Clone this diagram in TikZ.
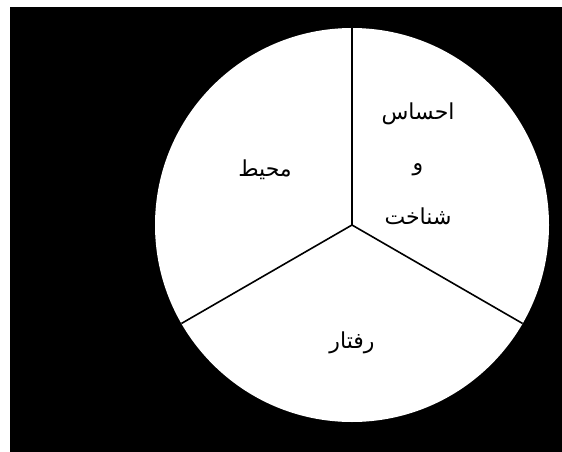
\documentclass[tikz,border=0pt]{standalone}
\usepackage{fontspec}
\newfontfamily\arabicfont[Script=Arabic]{DejaVu Sans}
\TeXXeTstate=1
\begin{document}
\begin{tikzpicture}[x=1pt,y=-1pt,
  lbl/.style={font=\arabicfont\fontsize{22}{26}\selectfont, inner sep=0pt},
  divider/.style={line width=1.6pt, black}]
\useasboundingbox (0,0) rectangle (562,452);
\fill[white] (0,0) rectangle (562,452);
\fill[black] (10,7) rectangle (562,452);
\coordinate (c) at (352,225);
\fill[white] (c) circle (197);
\coordinate (top) at (352,28);
\draw[divider] (c) -- (top);
\draw[divider] (c) -- ++(-170.6,98.5) coordinate (l);
\draw[divider] (c) -- ++(170.6,98.5) coordinate (r);
\node[lbl] (env) at (265,170) {\beginR محیط\endR};
\node[lbl] (feel) at (418,114) {\beginR احساس\endR};
\node[lbl] (and) at (418,170) {\beginR و\endR};
\node[lbl] (cog) at (418,216) {\beginR شناخت\endR};
\node[lbl] (beh) at (352,343) {\beginR رفتار\endR};
\end{tikzpicture}
\end{document}
